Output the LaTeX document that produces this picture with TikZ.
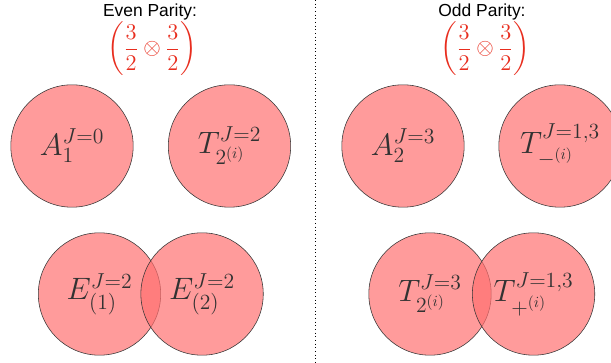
\RequirePackage{fix-cm}
\documentclass[tikz,border=0pt]{standalone}
\usepackage{amsmath, amssymb}
\usepackage{fontspec}
\newfontfamily\titlefont{Liberation Sans}
\usepackage{tikz}
\usetikzlibrary{positioning}
\usepackage{xcolor}
\definecolor{irrepfill}{RGB}{255, 112, 112}
\definecolor{irrepline}{RGB}{55, 55, 55}
\definecolor{labeltext}{RGB}{50, 50, 50}
\definecolor{spinred}{RGB}{232, 45, 30}

\begin{document}
\begin{tikzpicture}[
    irrep/.style={circle, draw=irrepline, thin, fill=irrepfill, fill opacity=0.7,
      text opacity=1, text=labeltext, minimum size=3.06cm, inner sep=0pt,
      font=\fontsize{22}{26}\selectfont},
    headtext/.style={font=\titlefont\fontsize{12.4}{14}\selectfont, inner sep=0pt},
    spintext/.style={text=spinred, font=\fontsize{16}{19}\selectfont, inner sep=0pt}]

  \useasboundingbox (0,0) rectangle (15.275,9.075);

  % Column divider
  \coordinate (divtop) at (7.875,9.075);
  \coordinate (divbot) at (7.875,0);
  \draw[black, dotted, semithick] (divtop) -- (divbot);

  % Even parity column
  \node[headtext] (evenhead) at (3.75,8.775) {Even Parity:};
  \node[spintext] (evenspin) at (3.8,7.85) {$\biggl(\dfrac{3}{2}\otimes\dfrac{3}{2}\biggr)$};

  \node[irrep] (aone)  at (1.8,5.425)    {$A_1^{J=0}$};
  \node[irrep] (ttwoe) at (5.7375,5.425) {$T_{2^{(i)}}^{J=2}$};
  \node[irrep] (eone)  at (2.4875,1.725) {$E_{(1)}^{J=2}$};
  \node[irrep, right=-0.51cm of eone] (etwo) {$E_{(2)}^{J=2}$};

  % Odd parity column
  \node[headtext] (oddhead) at (12.05,8.775) {Odd Parity:};
  \node[spintext] (oddspin) at (12.125,7.85) {$\biggl(\dfrac{3}{2}\otimes\dfrac{3}{2}\biggr)$};

  \node[irrep] (atwo)   at (10.075,5.425) {$A_2^{J=3}$};
  \node[irrep] (tminus) at (14.0,5.425)   {$T_{-^{(i)}}^{J=1,3}$};
  \node[irrep] (ttwoo)  at (10.75,1.725)  {$T_{2^{(i)}}^{J=3}$};
  \node[irrep, right=-0.485cm of ttwoo] (tplus) {$T_{+^{(i)}}^{J=1,3}$};

\end{tikzpicture}
\end{document}
